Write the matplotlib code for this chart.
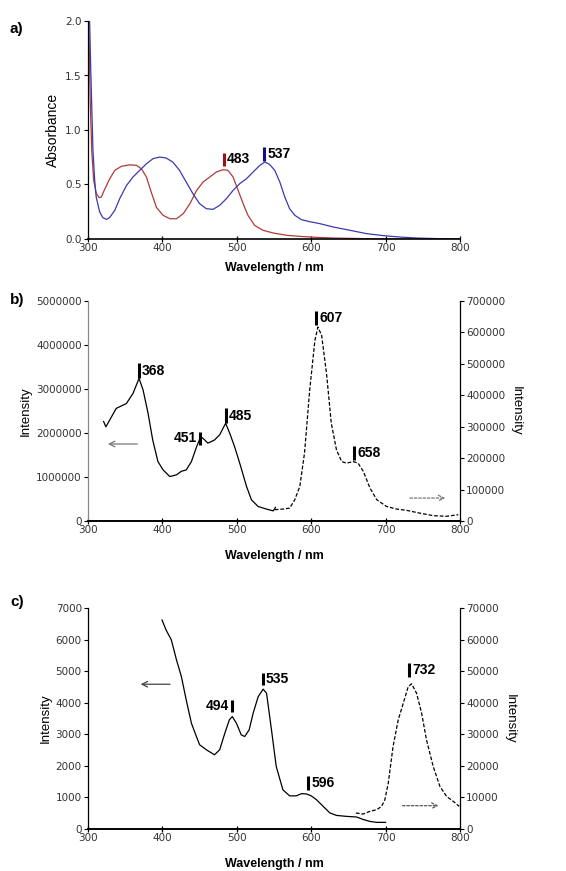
import matplotlib
matplotlib.use("Agg")
import matplotlib.pyplot as plt

plt.rcParams['font.family'] = ['Liberation Sans', 'DejaVu Sans']

# ---------- panel a: absorbance ----------
a_red_x = [300.4, 301.3, 303, 305, 307.6, 311, 314.8, 318, 322, 329, 336, 345, 356, 365, 371.7, 378.5,
           385, 392, 401, 410, 419, 428, 437, 446, 454.7, 463.7, 472.6, 481.6, 488, 495, 501.8, 508.5,
           515, 524, 535, 549, 567, 584.7, 607, 629.6, 674, 719, 800]
a_red_y = [2.05, 1.88, 1.27, 0.81, 0.54, 0.42, 0.38, 0.385, 0.45, 0.55, 0.63, 0.667, 0.68, 0.676, 0.645, 0.57,
           0.43, 0.29, 0.217, 0.186, 0.186, 0.232, 0.324, 0.446, 0.523, 0.569, 0.615, 0.636, 0.63, 0.569, 0.446, 0.324,
           0.217, 0.125, 0.08, 0.055, 0.034, 0.024, 0.015, 0.009, 0.003, 0.0, 0.0]
a_blue_x = [302, 303.6, 305.4, 306.7, 309, 311, 315.7, 320, 324.7, 329, 336, 342.6, 351.6, 360.5, 369.5, 378.5,
            387.4, 396.4, 405, 414, 423, 432, 441, 450, 459, 468, 477, 486, 495, 504, 513, 522, 531, 537.6,
            544, 551, 557.8, 564.5, 571, 578, 587, 598, 611.6, 629.6, 652, 674.5, 697, 719, 741.6, 773, 800]
a_blue_y = [2.05, 1.58, 1.12, 0.81, 0.54, 0.385, 0.248, 0.196, 0.18, 0.196, 0.263, 0.37, 0.49, 0.569, 0.63, 0.69,
            0.737, 0.752, 0.743, 0.706, 0.63, 0.523, 0.416, 0.324, 0.278, 0.272, 0.309, 0.37, 0.446, 0.508, 0.553,
            0.615, 0.676, 0.706, 0.685, 0.63, 0.523, 0.385, 0.278, 0.217, 0.177, 0.159, 0.141, 0.11, 0.08, 0.049,
            0.031, 0.018, 0.009, 0.003, 0.0]
a_peaks = [483, 537]
a_peak_bar = [(0.67, 0.79), (0.72, 0.84)]
a_peak_labels = ['483', '537']

# ---------- panel b: emission (left solid, right dashed) ----------
b_left_x = [321, 324, 338, 351.6, 360.5, 368.6, 374, 380.7, 387, 394, 401, 410, 419, 425.5, 432, 439, 446,
            451.6, 457, 461, 470, 477, 485, 490.6, 497, 504, 513, 519.7, 528.7, 540, 549, 552]
b_left_y = [2.26e6, 2.14e6, 2.56e6, 2.67e6, 2.9e6, 3.24e6, 2.98e6, 2.45e6, 1.84e6, 1.35e6, 1.16e6, 1.01e6,
            1.05e6, 1.13e6, 1.16e6, 1.35e6, 1.69e6, 1.92e6, 1.84e6, 1.77e6, 1.84e6, 1.96e6, 2.22e6, 1.99e6,
            1.69e6, 1.31e6, 0.79e6, 0.48e6, 0.33e6, 0.27e6, 0.23e6, 0.31e6]
b_right_x = [551, 562, 571, 578, 584.7, 591, 598, 605, 609, 614, 620.6, 627, 634, 641, 647.5, 656.5, 663,
             670, 679, 688, 701, 714.7, 728, 746, 764, 782, 797.8]
b_right_y = [36000, 38000, 41000, 68000, 110000, 216000, 417000, 575000, 617000, 591000, 469000, 311000,
             226000, 189000, 184000, 189000, 184000, 158000, 105000, 68000, 46500, 38000, 34000, 25000,
             17000, 15000, 20000]
b_left_peaks = [368, 451, 485]
b_left_bar = [(3.24e6, 3.58e6), (1.73e6, 2.03e6), (2.22e6, 2.56e6)]
b_left_labels = ['368', '451', '485']
b_right_peaks = [607, 658]
b_right_bar = [(623000, 668000), (194000, 240000)]
b_right_labels = ['607', '658']

# ---------- panel c ----------
c_left_x = [399.5, 405, 412, 419, 425.5, 432, 439, 445.7, 450, 459, 470, 477, 484, 490, 494, 499.5, 506,
            510.7, 516.6, 522, 528.7, 535.4, 540, 546.6, 553, 562, 571, 580, 587, 593.7, 600, 607, 616,
            625, 634, 647.5, 661, 670, 679, 688, 700]
c_left_y = [6620, 6300, 5990, 5350, 4830, 4090, 3350, 2930, 2670, 2510, 2350, 2510, 3040, 3460, 3560, 3350,
            2980, 2930, 3140, 3670, 4190, 4430, 4300, 3140, 1980, 1240, 1050, 1050, 1120, 1110, 1050, 930,
            720, 510, 430, 400, 380, 300, 240, 210, 210]
c_right_x = [660, 670, 679, 688, 694.6, 699, 703.6, 710, 717, 723.7, 730.4, 735, 741.6, 748.4, 755, 764,
             773, 782, 791, 799]
c_right_y = [5060, 4740, 5590, 6110, 7170, 9280, 14550, 26100, 34600, 39800, 45100, 46000, 43000, 36700,
             28200, 19800, 13500, 10300, 8750, 7170]
c_left_peaks = [494, 535, 596]
c_left_bar = [(3720, 4090), (4560, 4930), (1240, 1665)]
c_left_labels = ['494', '535', '596']
c_right_peaks = [732]
c_right_bar = [(48270, 52490)]
c_right_labels = ['732']

W, H = 566, 871
fig = plt.figure(figsize=(W / 100, H / 100), dpi=100)

TICK_FS = 7.5
LAB_FS = 9.5
ANN_FS = 10
XL_FS = 9
TXT = '#333333'


def pos(x0, y_top, x1, y_bot):
    return [x0 / W, 1 - y_bot / H, (x1 - x0) / W, (y_bot - y_top) / H]


def style(ax, right=False, left_color='black'):
    ax.spines['top'].set_visible(False)
    if not right:
        ax.spines['right'].set_visible(False)
    ax.tick_params(axis='y', direction='out', length=3, width=0.8, labelsize=TICK_FS,
                   colors='black', labelcolor=TXT, pad=1.5)
    ax.tick_params(axis='x', direction='inout', length=4, width=0.9, labelsize=TICK_FS,
                   colors='black', labelcolor=TXT, pad=1)
    for lab in ax.get_xticklabels() + ax.get_yticklabels():
        lab.set_family('DejaVu Sans')
    for s in ax.spines.values():
        s.set_linewidth(0.9)
    ax.spines['bottom'].set_linewidth(1.2)
    ax.spines['left'].set_color(left_color)


def bar(ax, x, y0, y1, color, label, side='right'):
    ax.plot([x, x], [y0, y1], color=color, lw=2.2, solid_capstyle='butt', clip_on=False)
    ym = (y0 + y1) / 2
    if side == 'right':
        ax.text(x + 4, ym, label, fontsize=ANN_FS, fontweight='bold', ha='left', va='center', color='black')
    else:
        ax.text(x - 4, ym, label, fontsize=ANN_FS, fontweight='bold', ha='right', va='center', color='black')


# ---- a ----
axa = fig.add_axes(pos(88, 21, 460, 239))
axa.plot(a_red_x, a_red_y, color='#b03a3a', lw=0.9)
axa.plot(a_blue_x, a_blue_y, color='#3a3ab0', lw=0.9)
axa.set_xlim(300, 800)
axa.set_ylim(0, 2.0)
axa.set_xticks([300, 400, 500, 600, 700, 800])
axa.set_yticks([0, 0.5, 1.0, 1.5, 2.0])
axa.set_yticklabels(['0.0', '0.5', '1.0', '1.5', '2.0'])
style(axa)
axa.set_ylabel('Absorbance', fontsize=LAB_FS + 0.5, labelpad=4)
axa.set_xlabel('Wavelength / nm', fontsize=XL_FS, fontweight='bold', labelpad=6)
for x, (y0, y1), lab, c in zip(a_peaks, a_peak_bar, a_peak_labels, ['#a01010', '#101080']):
    bar(axa, x, y0, y1, c, lab)
fig.text(10 / W, 1 - 29 / H, 'a)', fontsize=11, fontweight='bold', va='center')

# ---- b ----
axb = fig.add_axes(pos(88, 301, 460, 521))
axb.plot(b_left_x, b_left_y, color='black', lw=0.9)
axb.set_xlim(300, 800)
axb.set_ylim(0, 5e6)
axb.set_xticks([300, 400, 500, 600, 700, 800])
axb.set_yticks([0, 1e6, 2e6, 3e6, 4e6, 5e6])
axb.set_yticklabels(['0', '1000000', '2000000', '3000000', '4000000', '5000000'])
style(axb, left_color='#888888')
axb.set_ylabel('Intensity', fontsize=LAB_FS, labelpad=3)
axb.set_xlabel('Wavelength / nm', fontsize=XL_FS, fontweight='bold', labelpad=11)
axb2 = axb.twinx()
axb2.set_position(pos(88, 301, 460, 521))
axb2.plot(b_right_x, b_right_y, color='black', lw=0.9, ls=(0, (3, 1.5)))
axb2.set_ylim(0, 700000)
axb2.set_yticks([0, 100000, 200000, 300000, 400000, 500000, 600000, 700000])
axb2.set_yticklabels(['0', '100000', '200000', '300000', '400000', '500000', '600000', '700000'])
style(axb2, right=True)
axb2.spines['left'].set_visible(False)
axb2.set_ylabel('Intensity', fontsize=LAB_FS, rotation=270, labelpad=12)
for x, (y0, y1), lab in zip(b_left_peaks, b_left_bar, b_left_labels):
    bar(axb, x, y0, y1, 'black', lab, side='left' if lab == '451' else 'right')
for x, (y0, y1), lab in zip(b_right_peaks, b_right_bar, b_right_labels):
    bar(axb2, x, y0, y1, 'black', lab)
axb.annotate('', xy=(323, 1.75e6), xytext=(370, 1.75e6),
             arrowprops=dict(arrowstyle='->', color='#777777', lw=0.9))
axb2.annotate('', xy=(784, 73000), xytext=(729, 73000),
              arrowprops=dict(arrowstyle='->', color='#777777', lw=0.9, ls=(0, (2, 1.5))))
fig.text(10 / W, 1 - 300 / H, 'b)', fontsize=11, fontweight='bold', va='center')

# ---- c ----
axc = fig.add_axes(pos(88, 608, 460, 829))
axc.plot(c_left_x, c_left_y, color='black', lw=0.9)
axc.set_xlim(300, 800)
axc.set_ylim(0, 7000)
axc.set_xticks([300, 400, 500, 600, 700, 800])
axc.set_yticks(range(0, 7001, 1000))
style(axc)
axc.set_ylabel('Intensity', fontsize=LAB_FS, labelpad=3)
axc.set_xlabel('Wavelength / nm', fontsize=XL_FS, fontweight='bold', labelpad=11)
axc2 = axc.twinx()
axc2.set_position(pos(88, 608, 460, 829))
axc2.plot(c_right_x, c_right_y, color='black', lw=0.9, ls=(0, (3, 1.5)))
axc2.set_ylim(0, 70000)
axc2.set_yticks(range(0, 70001, 10000))
style(axc2, right=True)
axc2.spines['left'].set_visible(False)
axc2.set_ylabel('Intensity', fontsize=LAB_FS, rotation=270, labelpad=12)
for x, (y0, y1), lab in zip(c_left_peaks, c_left_bar, c_left_labels):
    bar(axc, x, y0, y1, 'black', lab, side='left' if lab == '494' else 'right')
for x, (y0, y1), lab in zip(c_right_peaks, c_right_bar, c_right_labels):
    bar(axc2, x, y0, y1, 'black', lab)
axc.annotate('', xy=(367, 4585), xytext=(414, 4585),
             arrowprops=dict(arrowstyle='->', color='#444444', lw=0.9))
axc.annotate('', xy=(775, 738), xytext=(719, 738),
             arrowprops=dict(arrowstyle='->', color='#555555', lw=0.9, ls=(0, (2, 1.5))))
fig.text(10 / W, 1 - 602 / H, 'c)', fontsize=11, fontweight='bold', va='center')

fig.savefig('out.png', dpi=100, facecolor='white')
